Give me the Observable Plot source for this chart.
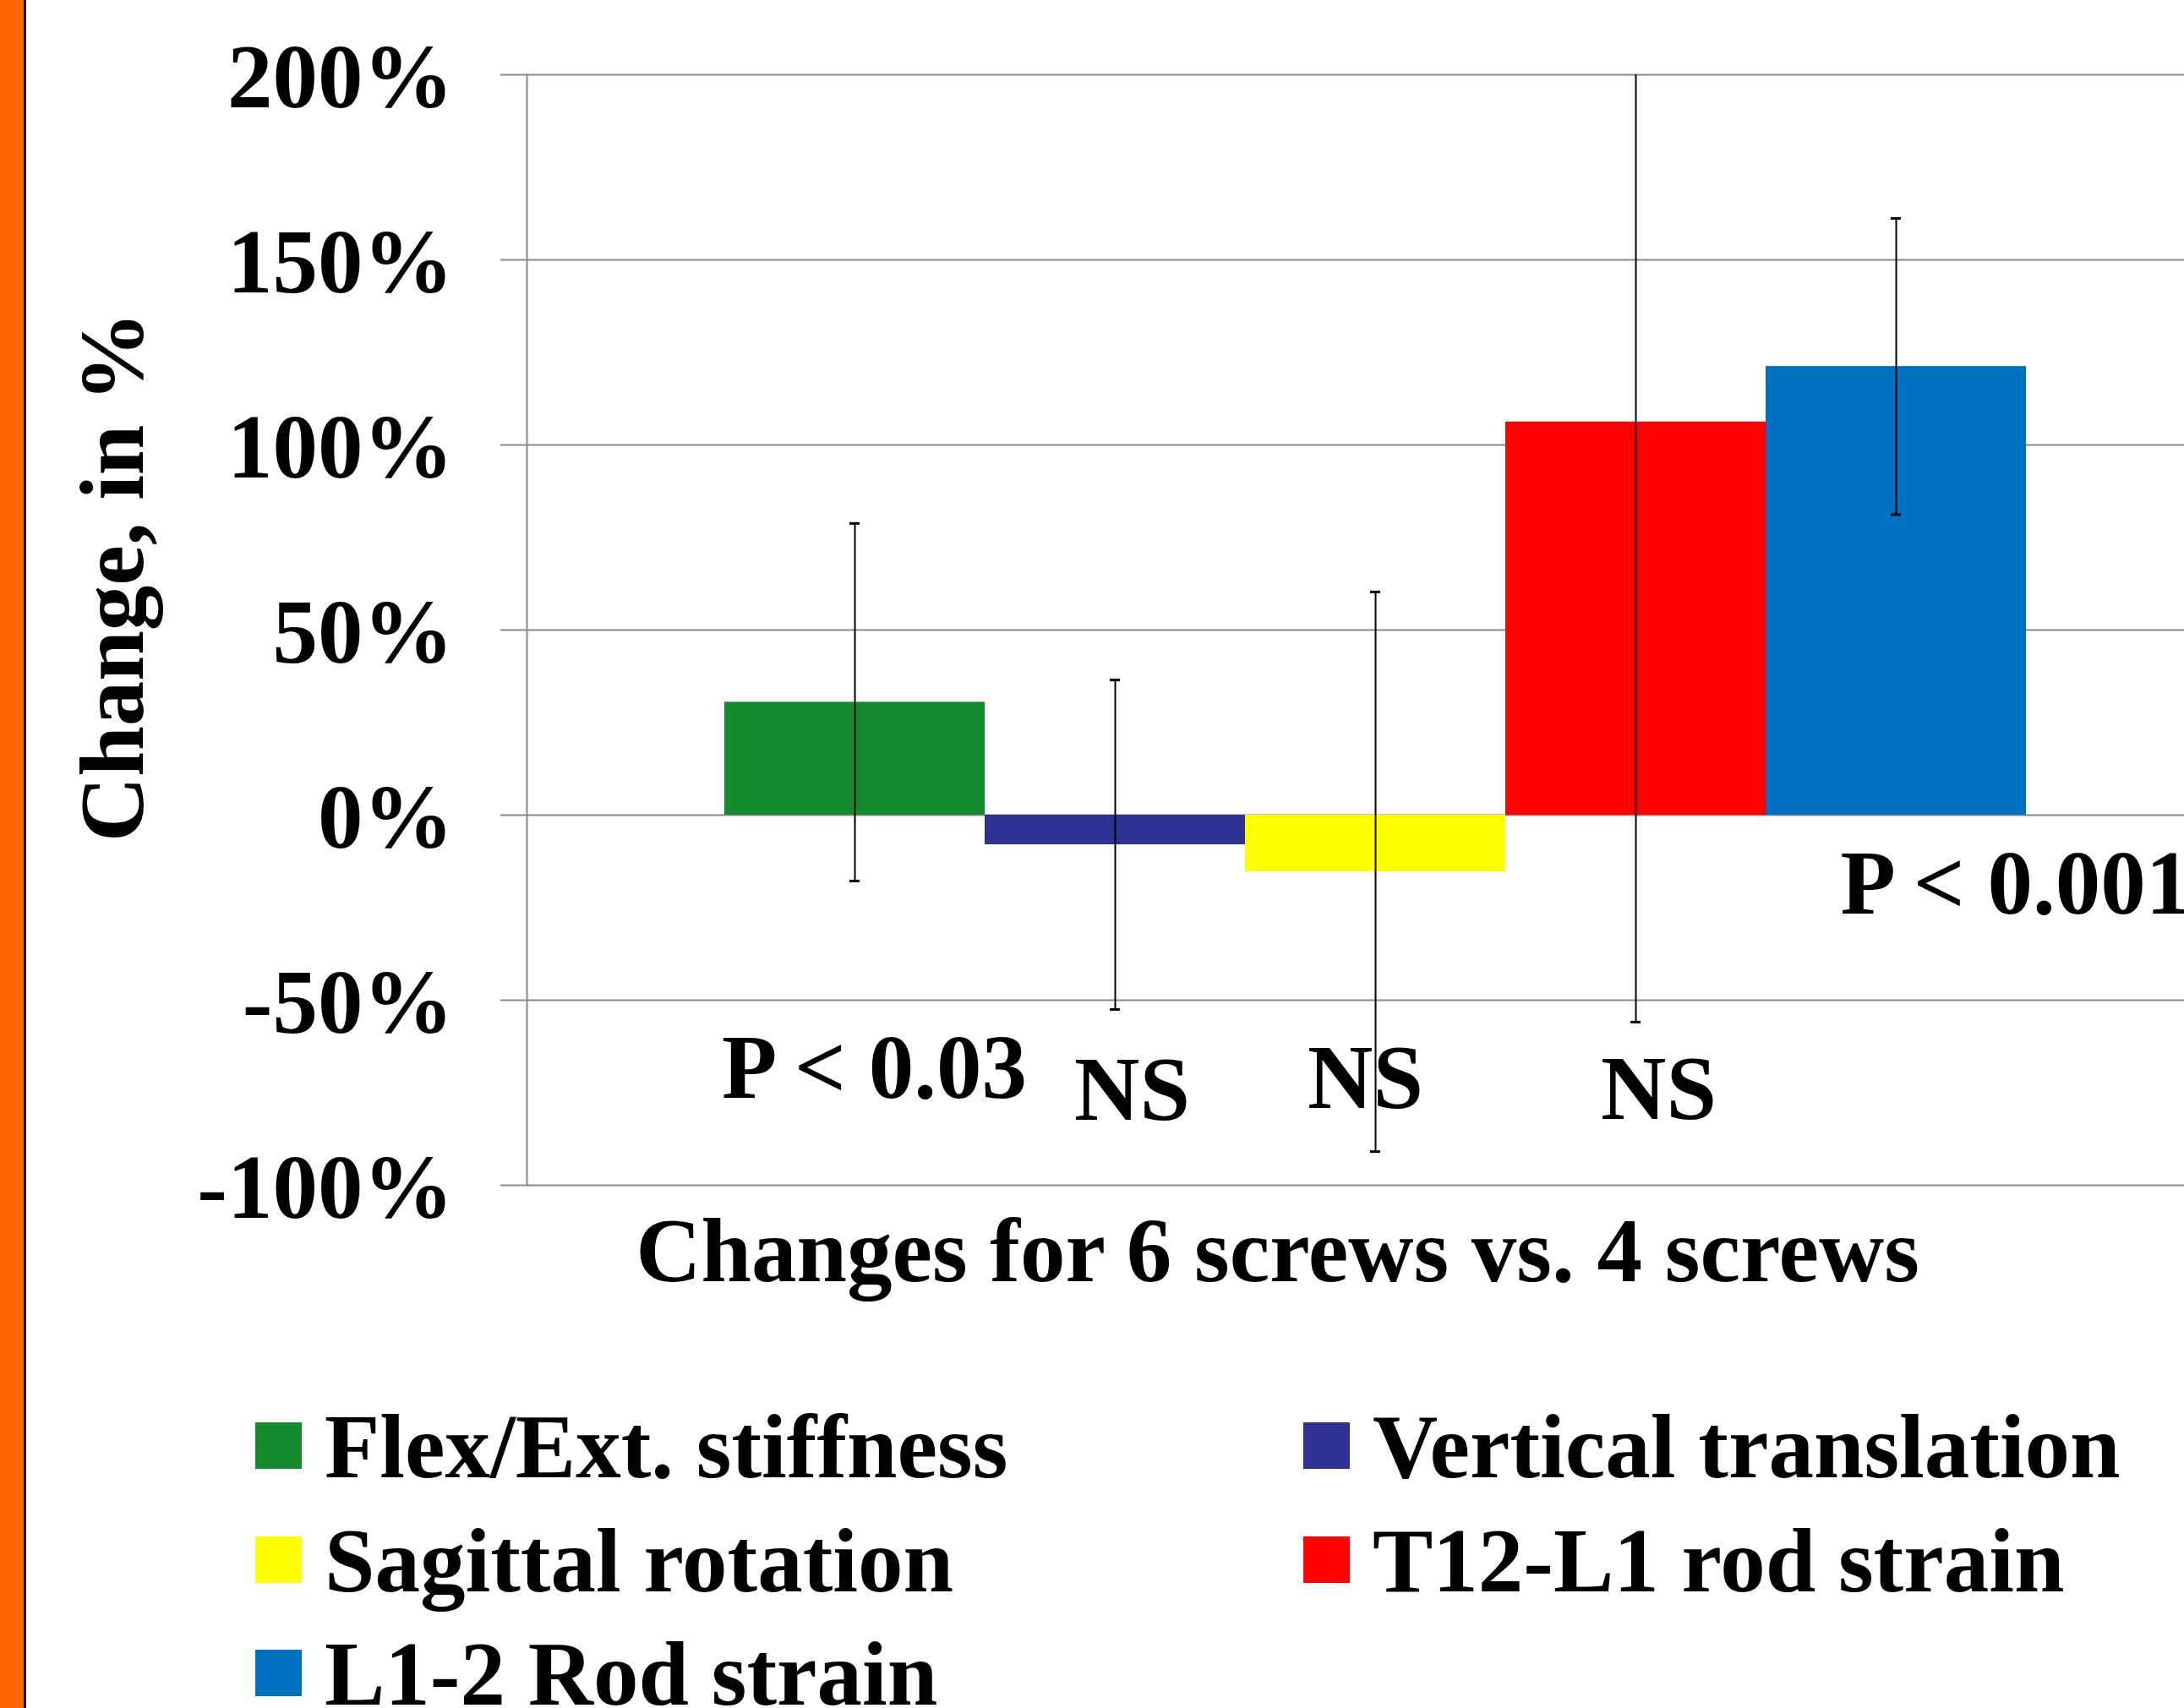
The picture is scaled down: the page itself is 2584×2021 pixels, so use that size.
<!DOCTYPE html>
<html>
<head>
<meta charset="utf-8">
<script src="https://cdn.jsdelivr.net/npm/d3@7"></script>
<script src="https://cdn.jsdelivr.net/npm/@observablehq/plot@0.6"></script>
<style>
  html, body { margin: 0; padding: 0; background: #ffffff; overflow: hidden; }
  body { width: 2584px; height: 2021px; position: relative; font-family: "Liberation Serif", "Times New Roman", serif; }
  #chart { position: absolute; left: 0; top: 0; }
  #strip { position: absolute; left: 0; top: 0; width: 28px; height: 2021px; background: #FF6600; border-right: 3px solid #000; z-index: 10; }
  .lg-sw { position: absolute; width: 55px; height: 55px; }
  .lg-tx { position: absolute; font-size: 107px; font-weight: bold; line-height: 107px; white-space: nowrap; color: #000; }
</style>
</head>
<body>
<div id="strip"></div>
<div id="chart"></div>
<div id="legend"></div>
<script>
// ---- data ----
const series = ["Flex/Ext. stiffness", "Vertical translation", "Sagittal rotation", "T12-L1 rod strain", "L1-2 Rod strain"];
const values = [30.5, -8.0, -15.3, 106.2, 121.2];      // mean change, %
const errors = [48.3, 44.5, 75.6, 162.1, 40.0];         // +/- error, %
const colors = ["#148A2E", "#2E3192", "#FFFF00", "#FF0000", "#0070C0"];
const yTicks = [-100, -50, 0, 50, 100, 150, 200];
const pLabels = ["P < 0.03", "NS", "NS", "NS", "P < 0.001"];
const xTitle = "Changes for 6 screws vs. 4 screws";
const yTitle = "Change, in %";

const rows = series.map((s, i) => ({series: s, value: values[i], lo: values[i] - errors[i], hi: values[i] + errors[i]}));

const font = "Liberation Serif, Times New Roman, serif";
const FS = 107;

// annotation placement (label index -> offsets)
const annoPlace = [
  {y: -76.3, dx: 23, anchor: "middle"},
  {y: -82.2, dx: 20, anchor: "middle"},
  {y: -79.2, dx: -12, anchor: "middle"},
  {y: -82.0, dx: 27, anchor: "middle"},
  {y: -26.7, dx: -66, anchor: "start"}
];

const chart = Plot.plot({
  width: 2584,
  height: 1560,
  marginLeft: 623,
  marginRight: 0,
  marginTop: 88,
  marginBottom: 158,
  style: {fontFamily: font, fontSize: FS + "px", fontWeight: "bold", color: "#000", background: "transparent", overflow: "visible"},
  x: {domain: series, range: [855, 2399], padding: 0, axis: null},
  y: {domain: [-100, 200], axis: null},
  color: {domain: series, range: colors},
  marks: [
    Plot.gridY(yTicks, {stroke: "#888888", strokeOpacity: 1, strokeWidth: 2}),
    Plot.barY(rows, {x: "series", y: "value", fill: "series"}),
    Plot.frame({anchor: "left", stroke: "#888888", strokeWidth: 2}),
    Plot.axisY(yTicks, {tickSize: 31, stroke: "#888888", strokeWidth: 2, fill: "none", tickFormat: () => "", label: null}),
    Plot.axisY(yTicks, {tickSize: 0, tickPadding: 87, dy: 4, tickFormat: d => d + "%", fontSize: FS, fontWeight: "bold", fill: "#000", label: null}),
    Plot.ruleX(rows, {x: "series", y1: "lo", y2: "hi", stroke: "#000", strokeWidth: 2, clip: true}),
    Plot.tickY(rows, {x: "series", y: "hi", insetLeft: 148, insetRight: 148, stroke: "#000", strokeWidth: 3, clip: true}),
    Plot.tickY(rows, {x: "series", y: "lo", insetLeft: 148, insetRight: 148, stroke: "#000", strokeWidth: 3, clip: true}),
    ...pLabels.map((t, i) => Plot.text([t], {
      x: [series[i]], y: [annoPlace[i].y], text: d => d,
      dx: annoPlace[i].dx, lineAnchor: "bottom", textAnchor: annoPlace[i].anchor,
      fontSize: FS, fontWeight: "bold", fill: "#000"
    })),
    Plot.text([xTitle], {frameAnchor: "bottom", text: d => d, dx: -92.5, dy: 113, lineAnchor: "bottom", textAnchor: "middle", fontSize: FS, fontWeight: "bold", fill: "#000"}),
    Plot.text([yTitle], {frameAnchor: "left", text: d => d, dx: -455, dy: -63, rotate: -90, lineAnchor: "bottom", textAnchor: "middle", fontSize: FS, fontWeight: "bold", fill: "#000"})
  ]
});
document.getElementById("chart").appendChild(chart);

// ---- legend (below the chart) ----
const legend = document.getElementById("legend");
const colX = [302, 1542];
const rowTop = [1683, 1818, 1952];
series.forEach((s, i) => {
  const c = i % 2, r = Math.floor(i / 2);
  const sw = document.createElement("div");
  sw.className = "lg-sw";
  sw.style.left = colX[c] + "px";
  sw.style.top = rowTop[r] + "px";
  sw.style.background = colors[i];
  legend.appendChild(sw);
  const tx = document.createElement("div");
  tx.className = "lg-tx";
  tx.style.left = (colX[c] + 82) + "px";
  tx.style.top = (rowTop[r] + 66 - 90) + "px";
  tx.textContent = s;
  legend.appendChild(tx);
});
</script>
</body>
</html>
